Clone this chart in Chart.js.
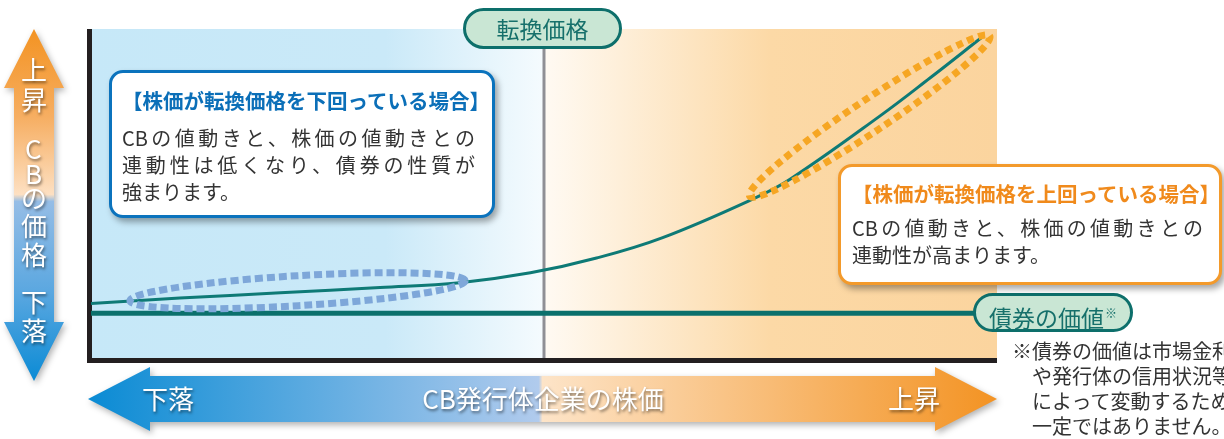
<!DOCTYPE html>
<html lang="ja">
<head>
<meta charset="utf-8">
<title>CBの価格と株価</title>
<script src="https://cdn.jsdelivr.net/npm/chart.js@4/dist/chart.umd.min.js"></script>
<style>
    html, body { margin: 0; padding: 0; background: #fff; }
    #wrap { position: relative; width: 1224px; height: 439px; overflow: hidden;
            font-family: "Noto Sans CJK JP", "Noto Sans", sans-serif; }
    #grafico { position: absolute; left: 0; top: 0; }
    .pill { position: absolute; box-sizing: border-box; border: 3px solid #0d6f6b; background: #c9e6d4;
            border-radius: 21px; color: #16706b; font-size: 23px; text-align: center; white-space: nowrap; }
    .pill sup { font-size: 12px; vertical-align: 9px; margin-left: 1px; }
    .caixa { position: absolute; box-sizing: border-box; background: #fff; border: 3px solid; border-radius: 14px;
             box-shadow: 3px 4px 6px rgba(0,0,0,0.35); }
    .caixa .tit { font-weight: bold; font-size: 20.5px; line-height: 28px; white-space: nowrap; }
    .caixa .lin { font-size: 20px; line-height: 27px; color: #333; white-space: nowrap; }
    .just { text-align: justify; text-align-last: justify; }
    .seta { position: absolute; color: #fff; font-size: 26px; line-height: 26px; white-space: nowrap;
            text-shadow: 1px 2px 3px rgba(0,0,0,0.5); }
    .nota { position: absolute; left: 1012px; top: 338px; font-size: 20px; line-height: 25px; color: #333;
            white-space: pre; }
</style>
</head>
<body>
<div id="wrap">
    <canvas id="grafico" width="1224" height="439"></canvas>

    <!-- seta vertical (CBの価格) -->
    <div class="seta" style="left:21px;top:56px">上</div>
    <div class="seta" style="left:21px;top:86px">昇</div>
    <div class="seta" style="left:25px;top:135px">C</div>
    <div class="seta" style="left:25px;top:160px">B</div>
    <div class="seta" style="left:21px;top:184px">の</div>
    <div class="seta" style="left:21px;top:212px">価</div>
    <div class="seta" style="left:21px;top:241px">格</div>
    <div class="seta" style="left:21px;top:288px">下</div>
    <div class="seta" style="left:21px;top:317px">落</div>

    <!-- seta horizontal (株価) -->
    <div class="seta" style="left:142px;top:385px">下落</div>
    <div class="seta" style="left:543px;top:385px;transform:translateX(-50%)">CB発行体企業の株価</div>
    <div class="seta" style="left:888px;top:385px">上昇</div>

    <!-- etiquetas -->
    <div class="pill" style="left:463px;top:8px;width:159px;height:41px;line-height:35px">転換価格</div>
    <div class="pill" style="left:973px;top:293px;width:160px;height:39px;line-height:33px">債券の価値<sup>※</sup></div>

    <div class="caixa" style="left:109px;top:70px;width:386px;height:148px;border-color:#0b73bd;padding:13px 0 0 10px">
        <div class="tit" style="color:#0b6fb8">【株価が転換価格を下回っている場合】</div>
        <div class="lin just" style="width:353px;margin-top:10px">CBの値動きと、株価の値動きとの</div>
        <div class="lin just" style="width:353px">連動性は低くなり、債券の性質が</div>
        <div class="lin">強まります。</div>
    </div>

    <div class="caixa" style="left:838px;top:164px;width:384px;height:121px;border-color:#f39a2b;padding:12px 0 0 11px">
        <div class="tit" style="color:#f08a1c">【株価が転換価格を上回っている場合】</div>
        <div class="lin just" style="width:351px;margin-top:7px">CBの値動きと、株価の値動きとの</div>
        <div class="lin">連動性が高まります。</div>
    </div>

    <div class="nota">※債券の価値は市場金利
　や発行体の信用状況等
　によって変動するため、
　一定ではありません。</div>
</div>

<script>
// Dados (escala 0–100 nos dois eixos)
const precoAcao = [0, 9.8, 20.9, 31.9, 40.7, 48.5, 55.8, 63.1, 73.5, 77.2, 87.1, 92.6, 98.3];
const precoCB   = [16.6, 18.2, 19.8, 21.4, 22.9, 25.9, 30.4, 36.6, 48.9, 54.4, 73.6, 85.1, 97.4];
const valorTitulo = 13.6;      // 債券の価値
const precoConversao = 50;     // 転換価格
// pontas dos laços pontilhados [x, y]
const lacoAzul = [[4.3, 17.4], [41.3, 23.5]];
const lacoLaranja = [[72.7, 49.2], [99.2, 97.9]];

const pontosCB = precoAcao.map((v, i) => ({ x: v, y: precoCB[i] }));
const pontosTitulo = [{ x: 0, y: valorTitulo }, { x: 100, y: valorTitulo }];

// Desenha uma seta dupla
function setaDupla(ctx, pts, grad) {
    ctx.save();
    ctx.shadowColor = 'rgba(0,0,0,0.3)';
    ctx.shadowBlur = 6;
    ctx.shadowOffsetX = 2;
    ctx.shadowOffsetY = 3;
    ctx.beginPath();
    pts.forEach((p, i) => i ? ctx.lineTo(p[0], p[1]) : ctx.moveTo(p[0], p[1]));
    ctx.closePath();
    ctx.fillStyle = grad;
    ctx.fill();
    ctx.restore();
}

// Laço pontilhado em volta de um trecho da curva
function laco(chart, pontas, raio, cor, tracejado) {
    const { ctx, scales: { x, y } } = chart;
    const x1 = x.getPixelForValue(pontas[0][0]), y1 = y.getPixelForValue(pontas[0][1]);
    const x2 = x.getPixelForValue(pontas[1][0]), y2 = y.getPixelForValue(pontas[1][1]);
    const rx = Math.hypot(x2 - x1, y2 - y1) / 2;
    const ang = Math.atan2(y2 - y1, x2 - x1);
    ctx.save();
    ctx.beginPath();
    ctx.ellipse((x1 + x2) / 2, (y1 + y2) / 2, rx, raio, ang, 0, Math.PI * 2);
    ctx.setLineDash(tracejado);
    ctx.lineWidth = 7;
    ctx.strokeStyle = cor;
    ctx.stroke();
    ctx.restore();
}

const fundo = {
    id: 'fundo',
    beforeDraw(chart) {
        const { ctx, chartArea: a, scales: { x } } = chart;
        const xc = x.getPixelForValue(precoConversao);

        // metade azul
        let g = ctx.createLinearGradient(a.left, 0, xc, 0);
        g.addColorStop(0, '#c6e8f8');
        g.addColorStop(0.65, '#cae9f8');
        g.addColorStop(1, '#f5fbfe');
        ctx.fillStyle = g;
        ctx.fillRect(a.left, a.top, xc - a.left, a.bottom - a.top);

        // metade laranja
        g = ctx.createLinearGradient(xc, 0, a.right, 0);
        g.addColorStop(0, '#fffaf3');
        g.addColorStop(0.5, '#fcd9a6');
        g.addColorStop(1, '#fbd49e');
        ctx.fillStyle = g;
        ctx.fillRect(xc, a.top, a.right - xc, a.bottom - a.top);

        // seta vertical
        g = ctx.createLinearGradient(0, 29, 0, 381);
        g.addColorStop(0, '#f39322');
        g.addColorStop(0.25, '#f6ae62');
        g.addColorStop(0.47, '#fde0c2');
        g.addColorStop(0.49, '#95bde6');
        g.addColorStop(0.75, '#5aa7e0');
        g.addColorStop(1, '#0b8bd5');
        setaDupla(ctx, [[34, 29], [64, 88], [54, 88], [54, 322], [64, 322], [34, 381],
                        [4, 322], [14, 322], [14, 88], [4, 88]], g);

        // seta horizontal
        g = ctx.createLinearGradient(88, 0, 997, 0);
        g.addColorStop(0, '#0a8bd4');
        g.addColorStop(0.496, '#b1cbed');
        g.addColorStop(0.5, '#fde4c8');
        g.addColorStop(1, '#f39323');
        setaDupla(ctx, [[88, 399], [150, 367], [150, 376], [935, 376], [935, 367], [997, 399],
                        [935, 431], [935, 422], [150, 422], [150, 431]], g);
    },
    beforeDatasetsDraw(chart) {
        const { ctx, chartArea: a, scales: { x } } = chart;
        const xc = x.getPixelForValue(precoConversao);
        // linha do preço de conversão
        ctx.fillStyle = '#8f8f95';
        ctx.fillRect(xc - 1.5, 45, 3, a.bottom - 45);
        // eixos
        ctx.fillStyle = '#231f20';
        ctx.fillRect(a.left - 4, a.top, 5, a.bottom - a.top + 5);
        ctx.fillRect(a.left - 4, a.bottom, a.right - a.left + 4, 5);
    },
    afterDatasetsDraw(chart) {
        laco(chart, lacoAzul, 15, '#7ea7d9', [8, 4]);
        laco(chart, lacoLaranja, 16, '#f6a623', [7, 5]);
    }
};

new Chart(document.getElementById('grafico').getContext('2d'), {
    type: 'line',
    data: {
        datasets: [{
            label: 'CBの価格',
            data: pontosCB,
            borderColor: '#0e7a76',
            borderWidth: 3,
            pointRadius: 0,
            tension: 0.4,
            fill: false
        }, {
            label: '債券の価値',
            data: pontosTitulo,
            borderColor: '#0b706c',
            borderWidth: 5,
            pointRadius: 0,
            fill: false
        }]
    },
    options: {
        responsive: false,
        animation: false,
        layout: { padding: { left: 91, top: 29, right: 227, bottom: 81 } },
        plugins: { legend: { display: false }, tooltip: { enabled: false } },
        scales: {
            x: { type: 'linear', min: 0, max: 100, display: false },
            y: { min: 0, max: 100, display: false }
        }
    },
    plugins: [fundo]
});
</script>
</body>
</html>
